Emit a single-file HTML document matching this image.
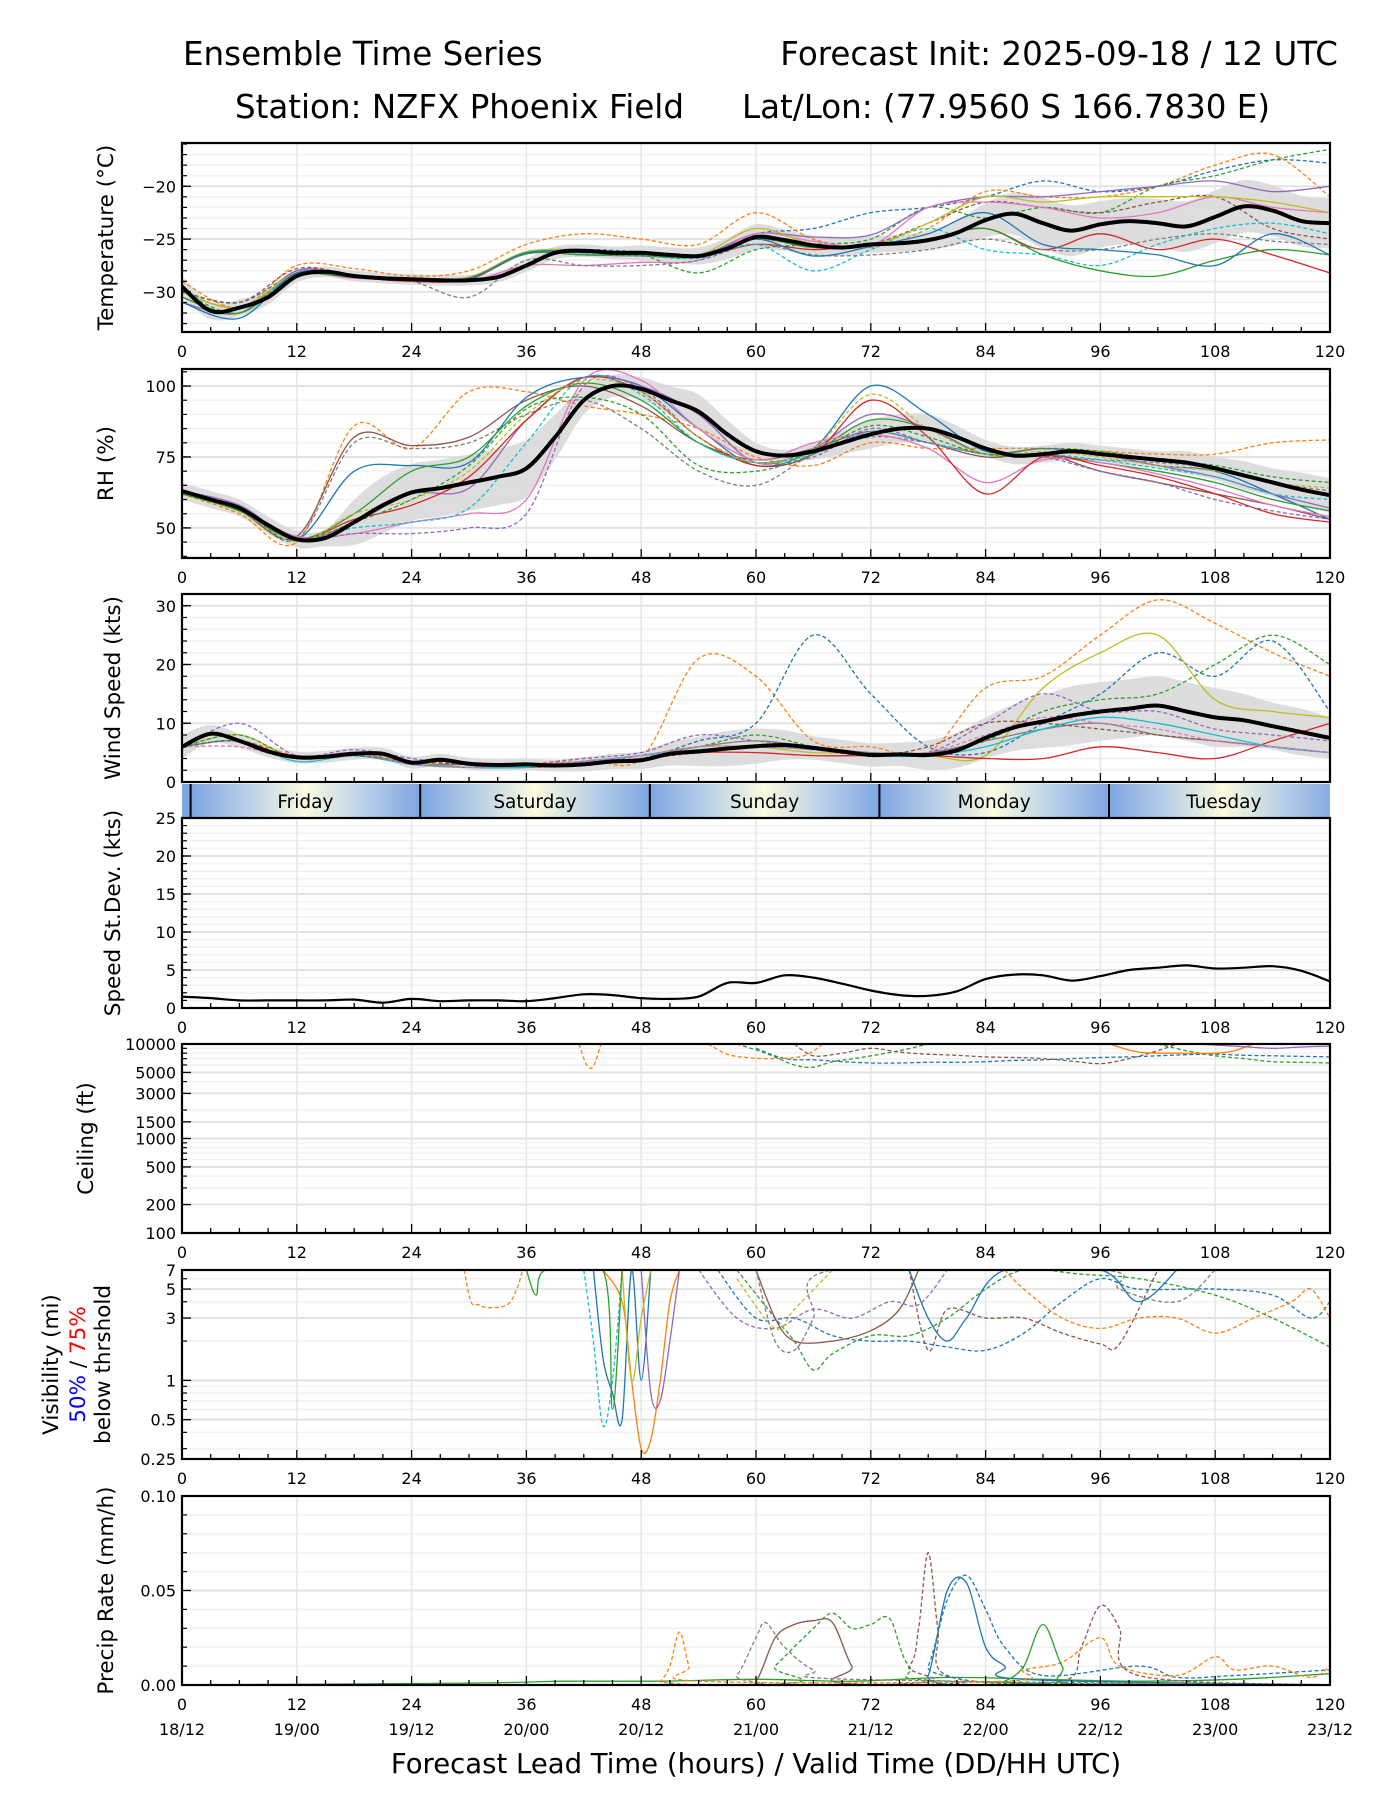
<!DOCTYPE html>
<html><head><meta charset="utf-8"><style>
html,body{margin:0;padding:0;background:#fff;}
svg{display:block;font-family:"DejaVu Sans","Liberation Sans",sans-serif;}
</style></head><body>
<svg id="chart" width="1400" height="1800" viewBox="0 0 1400 1800" xmlns="http://www.w3.org/2000/svg">
<defs>
<linearGradient id="dayGrad" x1="0" x2="1" y1="0" y2="0">
<stop offset="0" stop-color="#7ea6e2"/><stop offset="0.25" stop-color="#b9d0e8"/><stop offset="0.5" stop-color="#fbfbdf"/><stop offset="0.75" stop-color="#b9d0e8"/><stop offset="1" stop-color="#7ea6e2"/>
</linearGradient>
</defs>
<text x="183" y="65" font-size="32.5">Ensemble Time Series</text>
<text x="1338" y="65" font-size="32.5" text-anchor="end">Forecast Init: 2025-09-18 / 12 UTC</text>
<text x="235" y="118" font-size="32.5">Station: NZFX Phoenix Field</text>
<text x="742" y="118" font-size="32.5">Lat/Lon: (77.9560 S 166.7830 E)</text>
<text x="756" y="1773" font-size="27.5" text-anchor="middle">Forecast Lead Time (hours) / Valid Time (DD/HH UTC)</text>
</svg>
<script>
const H3=[0,3,6,9,12,15,18,21,24,27,30,33,36,39,42,45,48,51,54,57,60,63,66,69,72,75,78,81,84,87,90,93,96,99,102,105,108,111,114,117,120];
const H6=[0,6,12,18,24,30,36,42,48,54,60,66,72,78,84,90,96,102,108,114,120];
const xTickLabels=["0","12","24","36","48","60","72","84","96","108","120"];
const dateLabels=["18/12","19/00","19/12","20/00","20/12","21/00","21/12","22/00","22/12","23/00","23/12"];
const dayNames=["Friday","Saturday","Sunday","Monday","Tuesday"];
const dayStarts=[0.9,24.9,48.9,72.9,96.9];

// Temperature
const tempMean=[-29.5,-31.8,-31.5,-30.5,-28.5,-28.1,-28.5,-28.7,-28.8,-28.9,-28.9,-28.6,-27.5,-26.3,-26.1,-26.3,-26.3,-26.5,-26.6,-25.9,-24.8,-25.1,-25.6,-25.8,-25.5,-25.4,-25.1,-24.4,-23.2,-22.6,-23.5,-24.2,-23.6,-23.3,-23.5,-23.8,-22.9,-21.9,-22.3,-23.3,-23.5];
const tempSpread=[1,0.8,0.8,0.7,0.6,0.5,0.5,0.5,0.5,0.5,0.5,0.5,0.6,0.6,0.6,0.6,0.7,0.7,0.8,1.0,1.2,1.0,0.9,0.8,0.8,0.8,0.9,1.2,1.6,2.0,2.4,2.4,2.2,2.2,2.3,2.4,2.5,2.5,2.4,2.4,2.4];
const tempM1=[-30,-31,-28.3,-28.5,-28.8,-28.7,-26.3,-26.0,-26.2,-26.5,-24.5,-24.0,-22.5,-22.0,-21.0,-19.5,-20.5,-20.0,-18.5,-17.5,-17.8];
const tempM2=[-29,-31.5,-27.5,-27.8,-28.5,-28,-25.5,-24.5,-25.0,-25.5,-22.5,-25,-25.8,-24,-20.5,-21,-21,-20,-18,-17,-21];
const tempM3=[-30,-32,-28.3,-28.6,-29,-28.8,-26.2,-26.3,-26.5,-28.2,-26,-25.5,-25,-22,-23,-22,-22.5,-20,-19,-17.5,-16.5];
const tempM4=[-30.5,-32,-28,-28.6,-29,-28.8,-26.4,-26.5,-26.6,-26.7,-25.5,-26,-25.5,-25,-24,-26,-24.5,-26,-25,-26.5,-28.2];
const tempM5=[-31,-32,-28,-28.5,-28.8,-28.6,-26.3,-26.2,-26.4,-26.6,-24.5,-24.8,-24.6,-22,-21,-21,-20.5,-20,-19.5,-20.5,-20];
const tempM6=[-30,-31,-27.8,-28.4,-28.7,-28.8,-26.2,-26.5,-26.4,-26.5,-25,-25.8,-25.5,-23.5,-21.5,-22,-22.5,-21.5,-21,-24,-25];
const tempM7=[-30,-31.5,-28.4,-28.7,-28.8,-29,-27.5,-27.5,-27.2,-27,-24.5,-25.2,-25.6,-22,-21.5,-22,-23,-22.5,-21,-22,-22.5];
const tempM8=[-30,-31.5,-28.5,-28.6,-29,-30.5,-27,-27.5,-27.5,-27,-25.5,-26.5,-26.5,-26,-25,-26,-26,-25,-24.5,-25.2,-25.5];
const tempM9=[-30,-31.5,-28.3,-28.4,-28.9,-28.7,-26.3,-26.5,-26.6,-26.8,-25.5,-28,-26,-24,-26,-26.5,-27.5,-25.5,-24,-23.5,-24.5];
const tempM10=[-30,-31.5,-28.2,-28.5,-28.9,-28.6,-26.2,-26.1,-26.3,-26.5,-24,-25.5,-25.6,-23.5,-21,-21.5,-21,-21,-21,-21.5,-22.5];
const tempM11=[-30.5,-32,-28.5,-28.6,-28.9,-28.7,-26.4,-26.5,-26.5,-26.7,-25,-25.8,-25.5,-25,-24,-26.5,-28,-28.5,-27,-26,-26.5];
const tempM12=[-31,-32.5,-28.2,-28.6,-28.8,-28.7,-26.3,-26.3,-26.4,-26.6,-25,-26.6,-25.7,-24.5,-22.5,-25.5,-26,-26.5,-27.5,-24.5,-26.5];

// RH
const rhMean=[63,60,57,51,46,46.5,52,58,62.5,64,66,68,71,82,95,100,99,95,91,83,77,75.5,77,80,83,85,85,82,78,75.5,76,77,76,75,74,73,71,68.5,66,63.5,61.5];
const rhSpread=[3,3,3,3,3,3,8,10,10,10,10,10,10,8,5,4,4,5,6,5,3,2,3,4,5,5,5,4,3,3,3,3,3,3,3,4,4,5,5,6,6];
const rhM1=[62,55,45,86,78,98,98,93,90,85,75,72,80,78,78,78,77,76,76,80,81];
const rhM2=[62,57,46,80,78,80,90,95,85,70,65,76,82,80,76,75,74,73,71,66,63];
const rhM3=[63,56,47,82,79,82,95,100,93,80,74,78,84,80,75,76,70,66,62,58,53];
const rhM4=[63,57,46,70,72,73,96,103,100,85,72,78,100,90,77,78,76,72,70,62,53];
const rhM5=[62,56,46,55,70,75,93,101,95,80,73,77,88,85,76,76,73,70,66,60,56];
const rhM6=[63,58,46,52,62,64,88,103,100,90,73,78,90,85,76,78,76,72,68,62,57];
const rhM7=[63,57,47,48,52,55,60,102,102,85,74,80,83,78,66,74,73,69,64,58,54];
const rhM8=[63,57,46,53,58,68,88,103,98,82,72,76,95,82,62,75,72,68,62,55,52];
const rhM9=[63,57,46,48,48,50,55,100,99,82,73,75,85,80,76,75,70,66,60,56,53];
const rhM10=[62,57,46,50,52,57,80,103,97,80,73,76,84,80,76,76,74,71,68,62,60];
const rhM11=[62,56,45,55,60,70,90,102,98,82,73,78,97,85,76,77,75,72,70,66,64];
const rhM12=[62,56,46,52,60,72,92,96,90,72,70,76,86,82,76,78,77,74,72,68,66];

// Wind speed
const windMean=[6,8.2,7,5.2,4.2,4.3,4.8,4.8,3.3,3.8,3.1,2.9,3.0,2.8,3.0,3.5,3.7,4.8,5.2,5.7,6.1,6.3,5.8,5.2,4.6,4.7,4.6,5.4,7.5,9.3,10.3,11.3,12.0,12.5,13.0,12.0,11.0,10.5,9.5,8.5,7.5];
const windSpread=[2,1.5,1.2,1,1,1,1,1,1,1,1,1,1,1,1.2,1.3,1.5,2,2.5,3,3,2.5,2,2,2,2,2.5,3,3.5,4,4.5,5,5,5,5,5,5,4.5,4,4,3.5];
const windM1=[6,7,4.5,4.5,3.5,3,3,4,4,21,18,7,6,5,16,18,25,31,27,22,18];
const windM2=[6,7,4,5,3,3,2.5,3.5,4,7,10,25,15,6,5,10,15,22,18,24,12];
const windM3=[6,8,4,5,3.5,2.5,3,3.5,4.5,6,6,5,5,4.5,4.5,16,22,25,14,12,11];
const windM4=[6,8,4,5,3,3,2.5,3,4.5,6,8,6,4.5,5,7,12,14,15,20,25,20];
const windM5=[6,7,4,5,3,2.5,2.5,3,4,5,5,4.5,4.5,4.5,4,4,6,5,4,7,10];
const windM6=[6,10,4.5,5.5,4,3,3,4,5,8,7,6,5,5,10,15,12,12,9,8,7];
const windM7=[6,7,4,5,3,3,2.5,3.5,4.5,6,7,6,5,5,7,9,10,8,7,6,5];
const windM8=[6,7,3.5,4.5,3,2.5,2.5,3.5,4.5,5.5,6,5.5,4.5,4.5,6,9,11,10,8,6,5];
const windM9=[6,7,4,4.5,3.5,3,3,3.5,4,5,6,5.5,4.5,6,10,10,9,8,7,6,5];
const windM10=[6,6,4,5,3,2.5,3,3.5,4.5,6,6,5.5,4.5,5,8,11,10,9,7,6,5];

// Speed st.dev.
const sdValues=[1.5,1.3,1,1,1,1,1.1,0.7,1.2,0.9,1,1,0.9,1.3,1.8,1.7,1.3,1.2,1.5,3.3,3.3,4.3,4.0,3.2,2.3,1.7,1.6,2.2,3.8,4.4,4.3,3.6,4.2,5.0,5.3,5.6,5.2,5.3,5.5,4.9,3.5];

// Ceiling (ft)
const ceilH1=[60,63,66,69,72,75,78,81,84,87,90,93,96,99,102,105,108,111,114,117,120];
const ceilV1=[9000,7000,6800,6500,6300,6300,6400,6400,6500,6700,6800,7000,7200,7300,7500,7700,7800,7600,7500,7400,7300];
const ceilH2=[58,61,64,66,68,71,75,78];
const ceilV2=[10000,8000,6000,5700,6500,7200,8500,10000];
const ceilH3=[102,105,108,111,114,117,120];
const ceilV3=[10000,8500,7500,7000,6500,6400,6300];
const ceilH4=[64,66,69,72,75,78,81,84,87,90,93,96,99,102,104];
const ceilV4=[10000,7500,8000,9000,8200,7800,7600,7300,7200,7000,6600,6200,7000,8500,10000];
const ceilH5=[97,100,104,108,110,112];
const ceilV5=[10000,8200,8000,8000,8500,10000];
const ceilH6=[106,110,114,117,120];
const ceilV6=[10000,9500,9000,9300,9500];
const ceilH7=[55,57,59,62,65,67];
const ceilV7=[10000,7800,7200,7000,7500,10000];
const ceilH8=[41.5,42.3,43,43.8];
const ceilV8=[10000,6000,5800,10000];

// Visibility (mi)
const visH1=[44,46,47,48,49,50,51,52];
const visV1=[7,4,1,0.3,0.35,1,4,7];
const visH2=[42,43,44,45,46];
const visV2=[7,2,0.45,1,7];
const visH3=[43,44,45,46,47,48,49];
const visV3=[7,1.5,0.8,0.5,7,1,7];
const visH4=[29.5,30.2,31,32,34,35,35.6];
const visV4=[7,4,3.8,3.6,3.8,5,7];
const visH5=[58,62,64,66,68,72,76,80,84,88,94,100,108,114,120];
const visV5=[7,3,2,1.2,1.6,2.2,2.2,3,5,7,6.5,6,4.5,3,1.8];
const visH6=[56,60,64,68,72,76,80,84,88,92,96,100,108,114,118,120];
const visV6=[7,3,3,2.2,2,2,1.8,1.7,2.3,4,6,5,5,4.5,3,4];
const visH7=[60,62,64,68,72,75,77];
const visV7=[7,3,2,2,2.4,3.5,7];
const visH8=[76,78,80,84,88,92,96,98,102];
const visV8=[7,1.7,3.5,3,3,2.3,1.9,1.9,7];
const visH9=[54,58,62,66,70,74,77,80];
const visV9=[7,3,2.5,3.5,3,4,3.8,7];
const visH10=[86,88,92,96,100,104,108,112,116,118,120];
const visV10=[7,5,3,2.5,3,3,2.3,3,4,5,3];
const visH11=[58,62,64,68];
const visV11=[6,2.5,3.5,7];
const visH12=[60,62,64,66,68,96,98,104,108];
const visV12=[7,2,1.7,3,7,7,5,4,7];
const visH13=[76,78,80,82,86,96,100,104];
const visV13=[7,3,2,3,7,7,4,7];
const visH14=[48,49,50,51,52];
const visV14=[7,0.8,0.7,2,7];
const visH15=[46,47,48,49];
const visV15=[7,1,3,7];
const visH16=[36,37,38,44,45,46];
const visV16=[7,4.5,7,7,0.6,7];

// Precip rate (mm/h)
const prH1=[0,72,76,77,78,79,80,92,94,96,98,100,120];
const prV1=[0,0,0.01,0.03,0.07,0.03,0.005,0.002,0.02,0.042,0.03,0.005,0];
const prH2=[0,76,78,80,82,84,86,90,100,104,110,120];
const prV2=[0,0,0.01,0.045,0.058,0.04,0.02,0.005,0.01,0.004,0.005,0.008];
const prH3=[0,76,78,80,82,84,86,88,120];
const prV3=[0,0,0.005,0.05,0.054,0.02,0.01,0.003,0];
const prH4=[0,60,62,66,68,70,72,74,76,80,120];
const prV4=[0,0,0.01,0.03,0.038,0.03,0.032,0.035,0.01,0.002,0];
const prH5=[0,58,60,62,64,66,68,70,72,120];
const prV5=[0,0,0.002,0.025,0.032,0.034,0.033,0.01,0,0];
const prH6=[0,56,58,60,61,63,66,70,120];
const prV6=[0,0,0.005,0.025,0.033,0.02,0.008,0.003,0];
const prH7=[0,49,50,51,52,53,54,86,88,92,96,98,104,108,110,114,118,120];
const prV7=[0,0,0.002,0.01,0.028,0.01,0.002,0.002,0.008,0.012,0.025,0.01,0.005,0.015,0.008,0.01,0.004,0.01];
const prH8=[0,84,86,88,90,92,94,120];
const prV8=[0,0,0.002,0.01,0.032,0.01,0,0];
const prH9=[0,30,40,50,60,70,80,90,100,110,120];
const prV9=[0,0.001,0.002,0.002,0.003,0.002,0.004,0.003,0.002,0.003,0.006];

const SVGNS="http://www.w3.org/2000/svg";
const svg=document.getElementById('chart');
const X0=182,X1=1330;
const C=['#1f77b4','#ff7f0e','#2ca02c','#d62728','#9467bd','#8c564b','#e377c2','#7f7f7f','#bcbd22','#17becf'];
function xs(h){return X0+(h/120)*(X1-X0);}
function mk(tag,attrs,parent){const e=document.createElementNS(SVGNS,tag);for(const k in attrs)e.setAttribute(k,attrs[k]);(parent||svg).appendChild(e);return e;}
function smooth(p){if(!p.length)return'';let d='M'+p[0][0].toFixed(1)+','+p[0][1].toFixed(1);for(let i=0;i<p.length-1;i++){const p0=p[i-1]||p[i],p1=p[i],p2=p[i+1],p3=p[i+2]||p2;const c1x=p1[0]+(p2[0]-p0[0])/6,c1y=p1[1]+(p2[1]-p0[1])/6,c2x=p2[0]-(p3[0]-p1[0])/6,c2y=p2[1]-(p3[1]-p1[1])/6;d+='C'+c1x.toFixed(1)+','+c1y.toFixed(1)+' '+c2x.toFixed(1)+','+c2y.toFixed(1)+' '+p2[0].toFixed(1)+','+p2[1].toFixed(1);}return d;}

function makePanel(name,top,bot,ys,yticks,minor,ylabels,noXLabels){
  const g=mk('g',{});
  
  
  const cp=mk('clipPath',{id:'clip-'+name},svg);
  mk('rect',{x:X0,y:top,width:X1-X0,height:bot-top},cp);
  minor.forEach(v=>{const y=ys(v);mk('line',{x1:X0,x2:X1,y1:y,y2:y,stroke:'#f2f2f2','stroke-width':1.5},g);});
  for(let h=0;h<=120;h+=12){const x=xs(h);mk('line',{x1:x,x2:x,y1:top,y2:bot,stroke:'#e6e6e6','stroke-width':1.5},g);}
  yticks.forEach(v=>{const y=ys(v);mk('line',{x1:X0,x2:X1,y1:y,y2:y,stroke:'#e3e3e3','stroke-width':2},g);});
  const data=mk('g',{'clip-path':'url(#clip-'+name+')'},g);
  
  
  const ax=mk('g',{},g);
  
  
  for(let h=0;h<=120;h+=3){const x=xs(h);const L=(h%12===0)?9:5;mk('line',{x1:x,x2:x,y1:bot,y2:bot-L,stroke:'#000','stroke-width':1.3},ax);}
  minor.forEach(v=>{const y=ys(v);mk('line',{x1:X0,x2:X0+5,y1:y,y2:y,stroke:'#000','stroke-width':1.2},ax);});
  yticks.forEach((v,i)=>{const y=ys(v);mk('line',{x1:X0,x2:X0+9,y1:y,y2:y,stroke:'#000','stroke-width':1.3},ax);
    const t=mk('text',{x:X0-6,y:y+6,'font-size':16,'text-anchor':'end'},ax);t.textContent=ylabels[i];
    
    });
  if(!noXLabels){xTickLabels.forEach((lab,i)=>{const t=mk('text',{x:xs(i*12),y:bot+25,'font-size':16,'text-anchor':'middle'},ax);t.textContent=lab;
    
    });}
  mk('rect',{x:X0,y:top,width:X1-X0,height:bot-top,fill:'none',stroke:'#000','stroke-width':2.2},ax);
  return data;
}
function yLabel(text,x,top,bot,name){const cy=(top+bot)/2;const t=mk('text',{x:x,y:cy,'font-size':21.5,'text-anchor':'middle',transform:'rotate(-90 '+x+' '+cy+')'});t.textContent=text;
  
  return t;}
function linY(min,max,top,bot){return v=>bot-(v-min)/(max-min)*(bot-top);}
function logY(min,max,top,bot){return v=>bot-(Math.log10(v)-Math.log10(min))/(Math.log10(max)-Math.log10(min))*(bot-top);}
function member(g,hs,vs,ys,ci,dashed,name){const pts=[];hs.forEach((h,i)=>{if(vs[i]!==null)pts.push([xs(h),ys(vs[i])]);});
  const p=mk('path',{d:smooth(pts),fill:'none',stroke:C[ci],'stroke-width':1.3,'stroke-dasharray':dashed?'4,2.5':'none'},g);
  
  }
function band(g,hs,mean,spread,ys,name){let up=hs.map((h,i)=>[xs(h),ys(mean[i]+spread[i])]);let lo=hs.map((h,i)=>[xs(h),ys(mean[i]-spread[i])]).reverse();
  const p=mk('path',{d:smooth(up)+'L'+smooth(lo).slice(1)+'Z',fill:'#d9d9d9',opacity:0.9},g);
  
  }
function meanLine(g,hs,vals,ys,w,name){const p=mk('path',{d:smooth(hs.map((h,i)=>[xs(h),ys(vals[i])])),fill:'none',stroke:'#000','stroke-width':w,'stroke-linejoin':'round'},g);
  
  }

// Temperature panel
{const top=143,bot=332;const ys=linY(-33.8,-15.9,top,bot);const minor=[];for(let v=-33;v<=-16;v++)minor.push(v);
 const g=makePanel('temperature',top,bot,ys,[-30,-25,-20],minor,['\u221230','\u221225','\u221220']);
 band(g,H3,tempMean,tempSpread,ys,'temperature-spread-band');
 const ms=[tempM1,tempM2,tempM3,tempM4,tempM5,tempM6,tempM7,tempM8,tempM9,tempM10,tempM11,tempM12];
 const st=[[0,1],[1,1],[2,1],[3,0],[4,0],[5,1],[6,0],[7,1],[9,1],[8,0],[2,0],[0,0]];
 ms.forEach((m,i)=>member(g,H6,m,ys,st[i][0],st[i][1],'temperature-member'));
 meanLine(g,H3,tempMean,ys,4,'temperature-mean-line');
 yLabel('Temperature (\u00b0C)',113,top,bot,'temperature-y-axis-title');}

// RH panel
{const top=369,bot=558;const ys=linY(39.4,106,top,bot);const minor=[];for(let v=40;v<=105;v+=5)minor.push(v);
 const g=makePanel('rh',top,bot,ys,[50,75,100],minor,['50','75','100']);
 band(g,H3,rhMean,rhSpread,ys,'rh-spread-band');
 const ms=[rhM1,rhM2,rhM3,rhM4,rhM5,rhM6,rhM7,rhM8,rhM9,rhM10,rhM11,rhM12];
 const st=[[1,1],[7,1],[5,0],[0,0],[2,0],[4,0],[6,0],[3,0],[4,1],[9,1],[8,1],[2,1]];
 ms.forEach((m,i)=>member(g,H6,m,ys,st[i][0],st[i][1],'rh-member'));
 meanLine(g,H3,rhMean,ys,4,'rh-mean-line');
 yLabel('RH (%)',113,top,bot,'rh-y-axis-title');}

// Wind panel
{const top=594,bot=782;const ys=linY(0,32,top,bot);const minor=[];for(let v=2;v<=32;v+=2)minor.push(v);
 const g=makePanel('wind-speed',top,bot,ys,[0,10,20,30],minor,['0','10','20','30'],true);
 band(g,H3,windMean,windSpread,ys,'wind-spread-band');
 const ms=[windM1,windM2,windM3,windM4,windM5,windM6,windM7,windM8,windM9,windM10];
 const st=[[1,1],[0,1],[8,0],[2,1],[3,0],[4,1],[7,0],[9,0],[5,1],[6,1]];
 ms.forEach((m,i)=>member(g,H6,m,ys,st[i][0],st[i][1],'wind-member'));
 meanLine(g,H3,windMean,ys,4,'wind-mean-line');
 yLabel('Wind Speed (kts)',120,top,bot,'wind-y-axis-title');}

// Day band
{const top=784,bot=818;const g=mk('g',{});
 
 
 const cp=mk('clipPath',{id:'clip-day'});mk('rect',{x:X0,y:top,width:X1-X0,height:bot-top},cp);
 const gi=mk('g',{'clip-path':'url(#clip-day)'},g);
 mk('rect',{x:X0,y:top,width:X1-X0,height:bot-top,fill:'#7ea6e2'},gi);
 dayStarts.forEach((s,i)=>{const x=xs(s),w=xs(s+24)-x;
   const r=mk('rect',{x:x,y:top,width:w,height:bot-top,fill:'url(#dayGrad)'},gi);
   
   
   mk('line',{x1:x,x2:x,y1:top,y2:bot,stroke:'#000','stroke-width':2},gi);
   const t=mk('text',{x:x+w/2,y:top+24,'font-size':18.5,'text-anchor':'middle'},gi);t.textContent=dayNames[i];
   
   });}

// Std dev panel
{const top=818,bot=1008;const ys=linY(0,25,top,bot);const minor=[];for(let v=1;v<=25;v++)minor.push(v);
 const g=makePanel('speed-stdev',top,bot,ys,[0,5,10,15,20,25],minor,['0','5','10','15','20','25']);
 meanLine(g,H3,sdValues,ys,2.2,'speed-stdev-line');
 yLabel('Speed St.Dev. (kts)',120,top,bot,'stdev-y-axis-title');}

// Ceiling panel
{const top=1044,bot=1233;const ys=logY(100,10000,top,bot);
 const minor=[300,400,600,700,800,900,2000,4000,6000,7000,8000,9000];
 const g=makePanel('ceiling',top,bot,ys,[100,200,500,1000,1500,3000,5000,10000],minor,['100','200','500','1000','1500','3000','5000','10000']);
 const ceil=[[ceilH1,ceilV1,0,1],[ceilH2,ceilV2,2,1],[ceilH3,ceilV3,2,1],[ceilH4,ceilV4,5,1],[ceilH5,ceilV5,1,0],[ceilH6,ceilV6,4,0],[ceilH7,ceilV7,1,1],[ceilH8,ceilV8,1,1]];
 ceil.forEach(c=>member(g,c[0],c[1],ys,c[2],c[3],'ceiling-member'));
 yLabel('Ceiling (ft)',93,top,bot,'ceiling-y-axis-title');}

// Visibility panel
{const top=1270,bot=1459;const ys=logY(0.25,7,top,bot);
 const minor=[0.3,0.4,0.6,0.7,0.8,0.9,2,4,6];
 const g=makePanel('visibility',top,bot,ys,[0.25,0.5,1,3,5,7],minor,['0.25','0.5','1','3','5','7']);
 const vis=[[visH1,visV1,1,0],[visH2,visV2,9,1],[visH3,visV3,0,0],[visH4,visV4,1,1],[visH5,visV5,2,1],[visH6,visV6,0,1],[visH7,visV7,5,0],[visH8,visV8,5,1],[visH9,visV9,4,1],[visH10,visV10,1,1],[visH11,visV11,8,1],[visH12,visV12,7,1],[visH13,visV13,0,0],[visH14,visV14,4,0],[visH15,visV15,8,0],[visH16,visV16,2,0]];
 vis.forEach(c=>member(g,c[0],c[1],ys,c[2],c[3],'visibility-member'));
 const cy=(top+bot)/2;
 const t=mk('text',{'font-size':21.5,'text-anchor':'middle',transform:'rotate(-90 0 0)'});
 
 
 t.innerHTML='<tspan x="'+(-cy)+'" y="58">Visibility (mi)</tspan><tspan x="'+(-cy)+'" y="85"><tspan fill="#0000ff">50%</tspan> / <tspan fill="#ff0000">75%</tspan></tspan><tspan x="'+(-cy)+'" y="110">below thrshold</tspan>';}

// Precip panel
{const top=1496,bot=1685;const ys=linY(0,0.1,top,bot);const minor=[0.01,0.02,0.03,0.04,0.06,0.07,0.08,0.09];
 const g=makePanel('precip',top,bot,ys,[0,0.05,0.1],minor,['0.00','0.05','0.10']);
 const pr=[[prH9,prV9,2,0],[prH1,prV1,5,1],[prH2,prV2,0,1],[prH3,prV3,0,0],[prH4,prV4,2,1],[prH5,prV5,5,0],[prH6,prV6,7,1],[prH7,prV7,1,1],[prH8,prV8,2,0]];
 pr.forEach(c=>member(g,c[0],c[1],ys,c[2],c[3],'precip-member'));
 yLabel('Precip Rate (mm/h)',113,top,bot,'precip-y-axis-title');
 dateLabels.forEach((lab,i)=>{const t=mk('text',{x:xs(i*12),y:bot+50,'font-size':16,'text-anchor':'middle'});t.textContent=lab;
   
   });}
</script>
</body></html>
